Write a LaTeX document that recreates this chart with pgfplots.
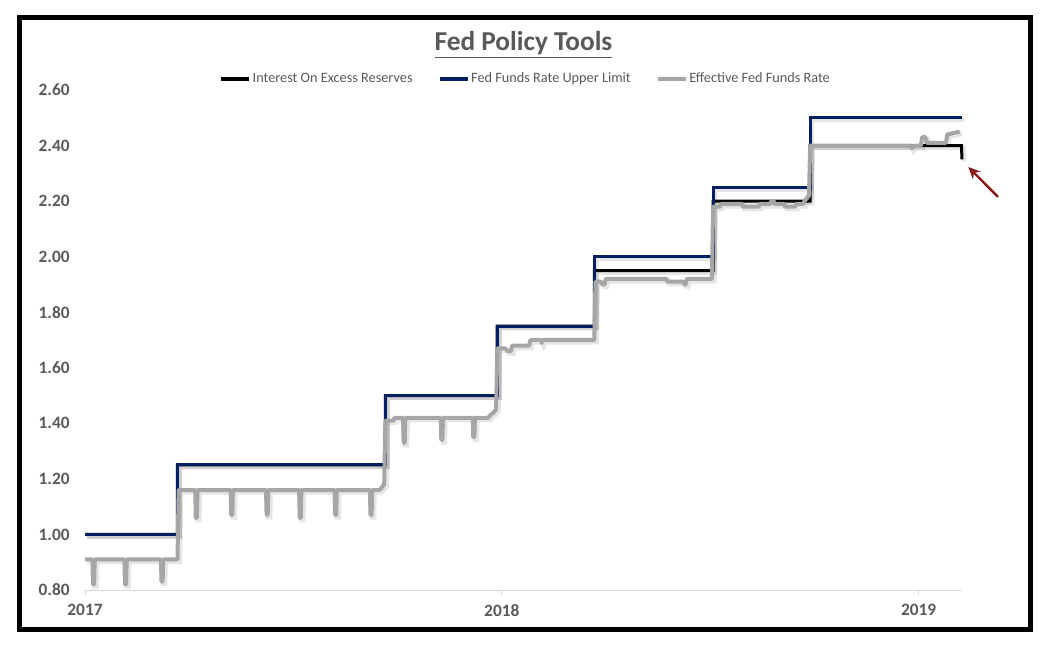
\documentclass[border=0pt]{standalone}
\usepackage{fontspec}
\setmainfont{Carlito}
\usepackage{pgfplots}
\pgfplotsset{compat=1.18}
\usetikzlibrary{arrows.meta}

\definecolor{fedblue}{HTML}{002060}
\definecolor{effgray}{HTML}{A6A6A6}
\definecolor{txtgray}{HTML}{595959}
\definecolor{axgray}{HTML}{D9D9D9}
\definecolor{arrowred}{HTML}{8B1A1A}

% x = days from the first observation (late March 2017)
\pgfplotstableread{
d y
0 1.00
81 1.00
81 1.25
263 1.25
263 1.50
361 1.50
361 1.75
446 1.75
446 2.00
550 2.00
550 2.25
635 2.25
635 2.50
768 2.50
}\upper

\pgfplotstableread{
d y
0 1.00
81 1.00
81 1.25
263 1.25
263 1.50
361 1.50
361 1.75
446 1.75
446 1.95
550 1.95
550 2.20
635 2.20
635 2.40
767.5 2.40
768 2.35
}\ioer

\pgfplotstableread{
d y
0 0.91
6.5 0.91
7 0.82
8 0.82
8.5 0.91
34.5 0.91
35 0.82
36 0.82
36.5 0.91
66.5 0.91
67 0.83
68 0.83
68.5 0.91
81 0.91
82 1.16
96.5 1.16
97 1.06
98 1.06
98.5 1.16
127.5 1.16
128 1.07
129 1.07
129.5 1.16
158.5 1.16
159 1.07
160 1.07
160.5 1.16
187.5 1.16
188 1.06
189 1.06
189.5 1.16
218.5 1.16
219 1.07
220 1.07
220.5 1.16
249.5 1.16
250 1.07
251 1.07
251.5 1.16
258 1.16
260 1.17
262 1.18
263 1.41
270 1.41
271 1.42
278.5 1.42
279 1.33
280 1.33
280.5 1.42
311.5 1.42
312 1.34
313 1.34
313.5 1.42
339.5 1.42
340 1.35
341 1.35
341.5 1.42
353 1.42
355 1.43
358 1.44
360 1.45
361 1.67
368 1.67
370 1.66
373 1.66
374 1.68
389 1.68
390 1.70
399 1.70
400 1.69
401 1.70
446 1.70
447 1.91
452 1.91
453 1.90
455 1.90
456 1.92
509 1.92
510 1.91
524 1.91
525 1.90
526 1.90
527 1.92
549 1.92
550 2.18
556 2.18
557 2.19
575 2.19
576 2.18
590 2.18
591 2.19
600 2.19
601 2.20
603 2.20
604 2.19
612 2.19
613 2.18
622 2.18
623 2.19
629 2.19
630 2.20
634 2.22
635 2.40
723 2.40
724 2.39
726 2.40
732 2.40
733 2.43
736 2.43
737 2.41
754 2.41
755 2.44
766 2.45
}\effr

\begin{document}
\begin{tikzpicture}
\useasboundingbox (0,0) rectangle (786pt,495pt);
\draw[line width=3.75pt] (14.25pt,23.25pt) rectangle (772.5pt,481.9pt);
\node[text=txtgray, font=\fontsize{20.5}{24}\selectfont\bfseries] at (392.6pt,461.5pt) {\underline{Fed Policy Tools}};

\begin{axis}[
    at={(63.75pt,52.5pt)}, anchor=south west,
    scale only axis,
    width=657.75pt, height=375pt,
    xmin=0, xmax=768,
    ymin=0.8, ymax=2.6,
    clip=false,
    axis lines=left,
    axis line style={-},
    x axis line style={draw=axgray, line width=0.75pt},
    y axis line style={draw=none},
    ytick={0.8,1.0,...,2.6},
    xtick={0,365,730},
    xticklabels={2017,2018,2019},
    ytick style={draw=none},
    xtick style={draw=axgray, line width=0.75pt},
    tick align=outside,
    major tick length=4pt,
    /pgf/number format/assume math mode=true,
    yticklabel style={/pgf/number format/fixed, /pgf/number format/fixed zerofill, /pgf/number format/precision=2, xshift=-4pt},
    tick label style={text=txtgray, font=\fontsize{13}{15}\selectfont\bfseries},
    xticklabel style={yshift=-3pt},
    legend columns=3,
    legend style={at={(0.502,1.022)}, anchor=center, draw=none, fill=none,
        font=\fontsize{10.7}{12}\selectfont, text=txtgray,
        nodes={inner sep=1pt},
        /tikz/every even column/.append style={column sep=18pt}},
    legend image code/.code={\draw[#1, line width=3pt] (0pt,0pt) -- (21pt,0pt);},
]
% shadows
\addplot[forget plot, black, opacity=0.1, line width=3.5pt, xshift=1.5pt, yshift=-1.5pt] table[x=d,y=y] {\ioer};
\addplot[black, line width=2.25pt] table[x=d,y=y] {\ioer};
\addlegendentry{Interest On Excess Reserves}
\addplot[forget plot, black, opacity=0.1, line width=3.5pt, xshift=1.5pt, yshift=-1.5pt] table[x=d,y=y] {\upper};
\addplot[fedblue, line width=2.25pt] table[x=d,y=y] {\upper};
\addlegendentry{Fed Funds Rate Upper Limit}
\addplot[forget plot, black, opacity=0.1, line width=4pt, xshift=1.5pt, yshift=-1.5pt] table[x=d,y=y] {\effr};
\addplot[effgray, line width=3pt, line join=round] table[x=d,y=y] {\effr};
\addlegendentry{Effective Fed Funds Rate}
\draw[arrowred, line width=1.8pt, -{Stealth[length=9pt,width=8pt]}] (axis cs:799.5,2.215) -- (axis cs:773.5,2.323);
\end{axis}
\end{tikzpicture}
\end{document}
